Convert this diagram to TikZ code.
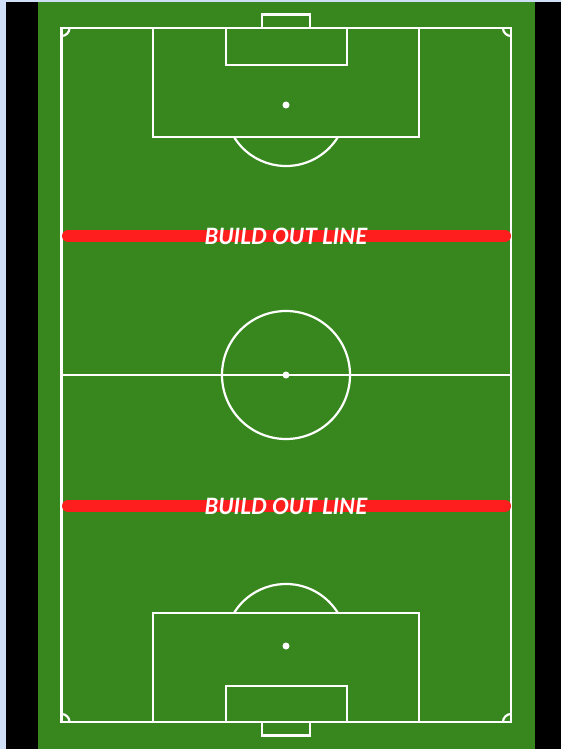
\documentclass[tikz,border=0pt]{standalone}
\usepackage{fontspec}
\setmainfont{Lato}
\begin{document}
\begin{tikzpicture}[x=1pt,y=-1pt,
  pitchline/.style={draw=white,line width=2.2pt},
  spot/.style={fill=white},
  buildline/.style={draw=buildred,line width=12pt,line cap=round},
  buildtext/.style={text=white,font=\fontsize{22.5}{22.5}\selectfont\bfseries\itshape,inner sep=0pt}]
\definecolor{pitchgreen}{HTML}{37871E}
\definecolor{buildred}{HTML}{FF1E1E}
\definecolor{bgblue}{HTML}{CEDFF7}
\useasboundingbox (0,0) rectangle (561,749);
\fill[bgblue] (0,0) rectangle (561,749);
\fill[black] (6,2) rectangle (561,749);
\fill[pitchgreen] (38,2) rectangle (535,749);
% outline
\draw[pitchline] (61.5,28) rectangle (511,722);
\draw[pitchline] (61.5,375) -- (511,375);
\draw[pitchline] (286,375) circle (64);
\fill[spot] (286,375) circle (3.5);
% corner arcs
\draw[pitchline] (69.5,28) arc[start angle=0,end angle=90,radius=8];
\draw[pitchline] (503,28) arc[start angle=180,end angle=90,radius=8];
\draw[pitchline] (69.5,722) arc[start angle=0,end angle=-90,radius=8];
\draw[pitchline] (503,722) arc[start angle=180,end angle=270,radius=8];
% top
\draw[pitchline] (153,28) rectangle (419,137);
\draw[pitchline] (226,28) rectangle (347,65);
\draw[pitchline] (262,14.5) rectangle (310,28);
\fill[spot] (286,105) circle (3.5);
\draw[pitchline] (234,137) arc[start angle=148.4,end angle=31.6,radius=61];
% bottom
\draw[pitchline] (153,613) rectangle (419,722);
\draw[pitchline] (226,686) rectangle (347,722);
\draw[pitchline] (262,722) rectangle (310,735.5);
\fill[spot] (286,646) circle (3.5);
\draw[pitchline] (234,613) arc[start angle=-148.4,end angle=-31.6,radius=61];
% build out lines
\coordinate (b1l) at (68,236);
\coordinate (b1r) at (505,236);
\coordinate (b2l) at (68,506);
\coordinate (b2r) at (505,506);
\draw[buildline] (b1l) -- (b1r);
\draw[buildline] (b2l) -- (b2r);
\node[buildtext] (t1) at (286,236.5) {BUILD OUT LINE};
\node[buildtext] (t2) at (286,506.5) {BUILD OUT LINE};
\end{tikzpicture}
\end{document}
